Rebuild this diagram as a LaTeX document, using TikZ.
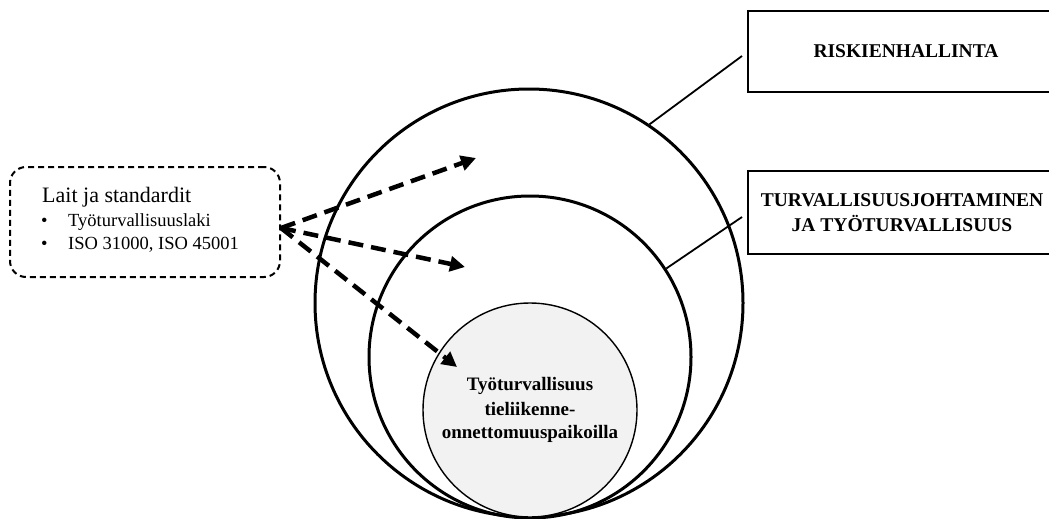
\documentclass[tikz,border=0pt]{standalone}
\usepackage{fontspec}
\setmainfont{Liberation Serif}
\usetikzlibrary{arrows.meta}
\begin{document}
\begin{tikzpicture}[x=1pt,y=-1pt,
  ring/.style={circle,draw,line width=3pt,inner sep=0pt},
  corering/.style={circle,draw,line width=1.4pt,fill=gray!10,inner sep=0pt},
  labelbox/.style={draw,line width=2pt,inner sep=0pt,align=center,
    font=\fontsize{19.5}{25}\selectfont\bfseries},
  coretext/.style={inner sep=0pt,anchor=base,font=\fontsize{19}{24}\selectfont\bfseries},
  lawsbox/.style={draw,line width=2pt,dash pattern=on 6pt off 4pt,rounded corners=16pt,
    minimum width=270pt,minimum height=110pt,inner sep=0pt},
  lawtitle/.style={inner sep=0pt,anchor=base west,font=\fontsize{22}{26}\selectfont},
  lawitem/.style={inner sep=0pt,anchor=base west,font=\fontsize{18.5}{22}\selectfont},
  lawarrow/.style={line width=4.5pt,dash pattern=on 15pt off 8pt,
    -{Triangle[length=15pt,width=15pt]}},
  leader/.style={line width=1.8pt}]
\useasboundingbox (0,0) rectangle (1049,519);

% nested circles
\node[ring,minimum size=428pt] (outer) at (529,303) {};
\node[ring,minimum size=322pt] (middle) at (530,357) {};
\node[corering,minimum size=214pt] (inner) at (530,410) {};
\node[coretext] (c1) at (530,390) {Työturvallisuus};
\node[coretext] (c2) at (530,415) {tieliikenne-};
\node[coretext] (c3) at (530,438) {onnettomuuspaikoilla};

% label boxes
\node[labelbox,minimum width=316pt,minimum height=81pt] (risk) at (906,51.5) {RISKIENHALLINTA};
\node[labelbox,minimum width=308pt,minimum height=83pt] (turv) at (902,212.5)
  {TURVALLISUUSJOHTAMINEN\\JA TYÖTURVALLISUUS};

% leader lines
\coordinate (r1) at (742,56);
\coordinate (r2) at (742,217);
\draw[leader] (r1) -- (outer.56.5);
\draw[leader] (r2) -- (middle.33.4);

% laws box
\node[lawsbox] (laws) at (145,222) {};
\node[lawtitle] (lt) at (42,202) {Lait ja standardit};
\node[lawitem] (b1) at (41,226) {•};
\node[lawitem] (l1) at (68,226) {Työturvallisuuslaki};
\node[lawitem] (b2) at (41,249) {•};
\node[lawitem] (l2) at (68,249) {ISO 31000, ISO 45001};

% arrows
\coordinate (src) at ([yshift=-6pt]laws.east);
\coordinate (t1) at (476,158);
\coordinate (t2) at (465,267);
\coordinate (t3) at (457,367);
\draw[lawarrow] (src) -- (t1);
\draw[lawarrow] (src) -- (t2);
\draw[lawarrow] (src) -- (t3);
\end{tikzpicture}
\end{document}
